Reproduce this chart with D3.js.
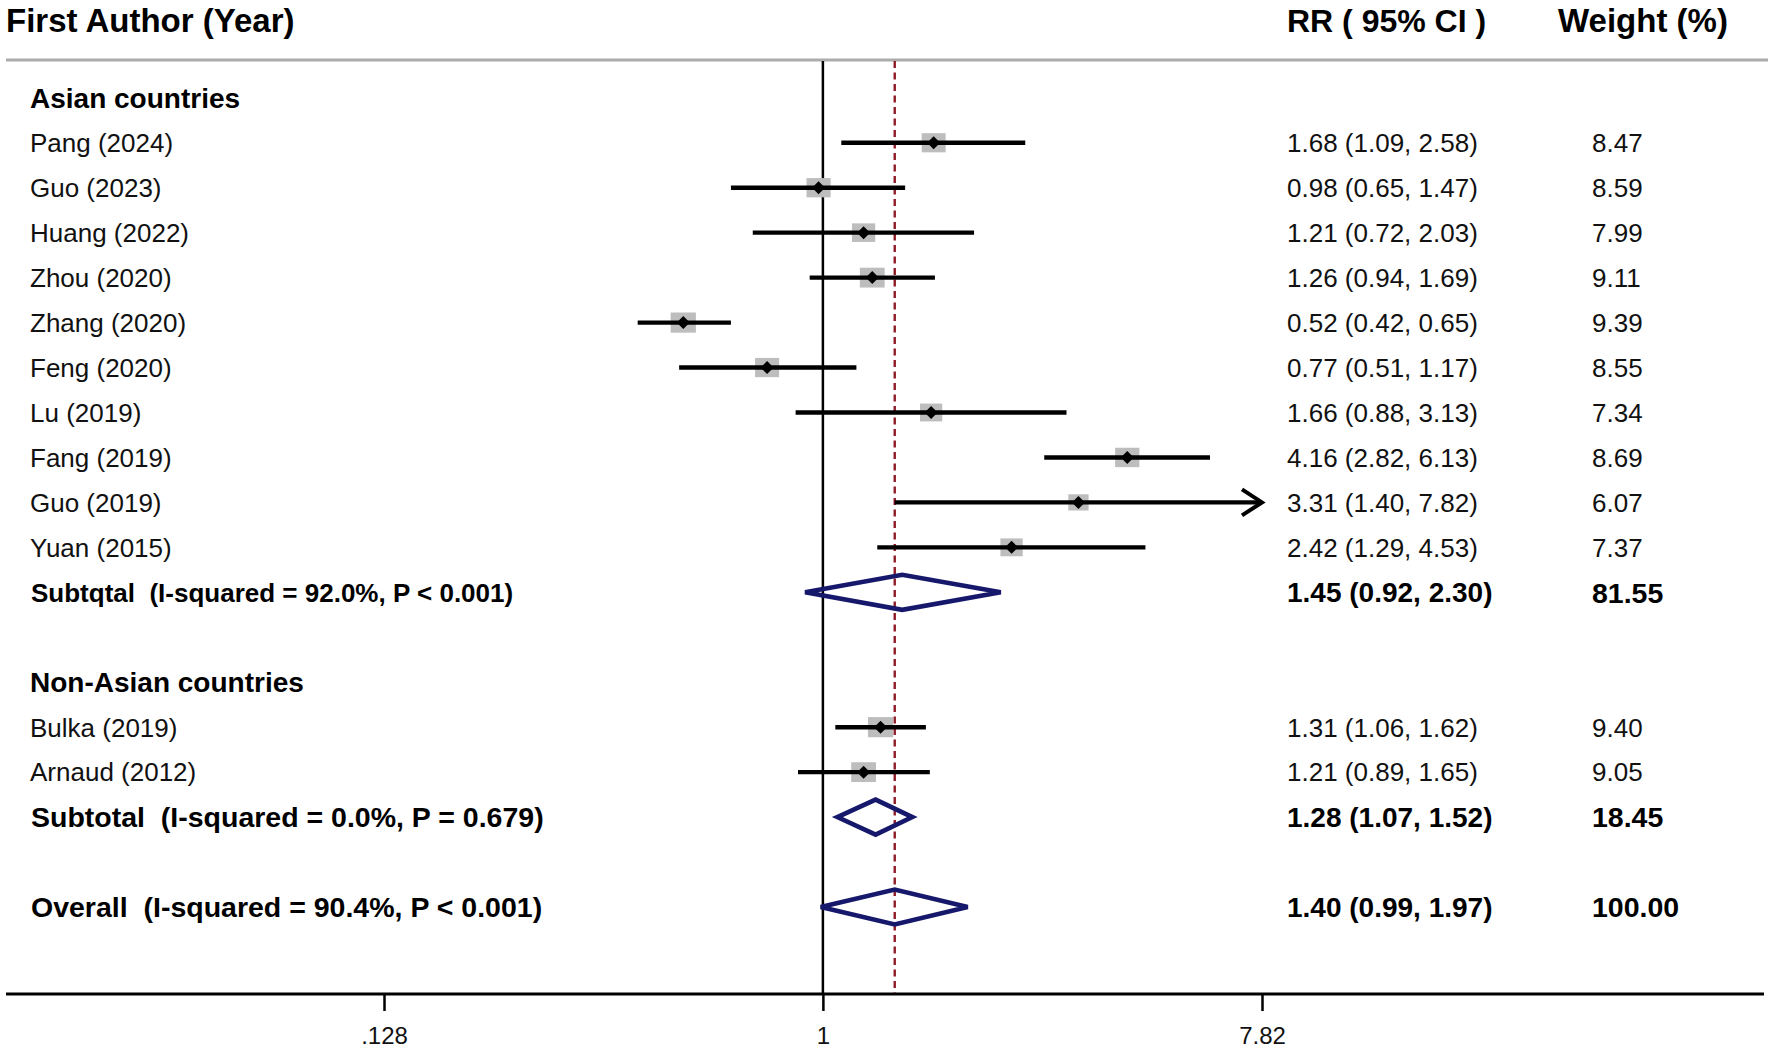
<!DOCTYPE html>
<html lang="en">
<head>
  <meta charset="UTF-8">
  <title>Forest plot</title>
  <style>
    body { margin: 0; background: #fff; }
    svg { display: block; font-family: "Liberation Sans", Arial, sans-serif; }
    text { white-space: pre; }
  </style>
</head>
<body>
  <svg></svg>
  <script src="https://cdn.jsdelivr.net/npm/d3@7"></script>
  <script>
    var width = 1771
    var height = 1052

    // data
    var groups = ["Asian countries", "Non-Asian countries"]
    var studies = ["Pang (2024)", "Guo (2023)", "Huang (2022)", "Zhou (2020)", "Zhang (2020)", "Feng (2020)",
                   "Lu (2019)", "Fang (2019)", "Guo (2019)", "Yuan (2015)", "Bulka (2019)", "Arnaud (2012)"]
    var studyGroup = [0, 0, 0, 0, 0, 0, 0, 0, 0, 0, 1, 1]
    var rr     = [1.68, 0.98, 1.21, 1.26, 0.52, 0.77, 1.66, 4.16, 3.31, 2.42, 1.31, 1.21]
    var lower  = [1.09, 0.65, 0.72, 0.94, 0.42, 0.51, 0.88, 2.82, 1.40, 1.29, 1.06, 0.89]
    var upper  = [2.58, 1.47, 2.03, 1.69, 0.65, 1.17, 3.13, 6.13, 7.82, 4.53, 1.62, 1.65]
    var weight = [8.47, 8.59, 7.99, 9.11, 9.39, 8.55, 7.34, 8.69, 6.07, 7.37, 9.40, 9.05]

    var pooledLabels = ["Subtqtal  (I-squared = 92.0%, P < 0.001)",
                        "Subtotal  (I-squared = 0.0%, P = 0.679)",
                        "Overall  (I-squared = 90.4%, P < 0.001)"]
    var pooledRR     = [1.45, 1.28, 1.40]
    var pooledLower  = [0.92, 1.07, 0.99]
    var pooledUpper  = [2.30, 1.52, 1.97]
    var pooledWeight = [81.55, 18.45, 100.00]
    var pooledFont   = [26, 28.5, 28.5]

    var tickValues = [0.128, 1, 7.82]
    var tickLabels = [".128", "1", "7.82"]

    // row layout: group header, its studies, subtotal, blank ... overall
    var rows = []
    groups.forEach(function(g, gi){
      rows.push({type: "group", label: g})
      studies.forEach(function(s, i){ if(studyGroup[i] === gi) rows.push({type: "study", i: i}) })
      rows.push({type: "pooled", i: gi})
      rows.push({type: "blank"})
    })
    rows.push({type: "pooled", i: 2})
    rows.forEach(function(r, k){ r.row = k })

    var x = d3.scaleLog().domain([0.128, 7.82]).range([384, 1262])
    var y = d3.scaleLinear().domain([0, rows.length - 1]).range([97.8, 907])
    var boxW = d3.scaleSqrt().domain([0, 10]).range([0, 26])

    var fmt = d3.format(".2f")
    function ci(m, l, u){ return fmt(m) + " (" + fmt(l) + ", " + fmt(u) + ")" }

    var plotTop = 61, axisY = 994
    var colRR = 1287, colW = 1592

    var svg = d3.select("svg").attr("width", width).attr("height", height)

    // header
    svg.append("text").attr("x", 6).attr("y", 32).attr("font-size", 33).attr("font-weight", "bold")
       .text("First Author (Year)")
    svg.append("text").attr("x", colRR).attr("y", 32).attr("font-size", 32).attr("font-weight", "bold")
       .text("RR ( 95% CI )")
    svg.append("text").attr("x", 1558).attr("y", 32).attr("font-size", 33).attr("font-weight", "bold")
       .text("Weight (%)")
    svg.append("line").attr("x1", 6).attr("x2", 1768).attr("y1", plotTop - 1).attr("y2", plotTop - 1)
       .attr("stroke", "#acacac").attr("stroke-width", 3)

    // reference lines
    svg.append("line").attr("x1", x(1)).attr("x2", x(1)).attr("y1", plotTop).attr("y2", axisY)
       .attr("stroke", "#000").attr("stroke-width", 2.5)
    svg.append("line").attr("x1", x(pooledRR[2])).attr("x2", x(pooledRR[2])).attr("y1", plotTop).attr("y2", axisY)
       .attr("stroke", "#8e1b27").attr("stroke-width", 2.4).attr("stroke-dasharray", "7,4.5")

    var studyRows = rows.filter(r => r.type === "study")
    var xmax = x.domain()[1]

    // weight boxes
    svg.selectAll("rect.box").data(studyRows).join("rect").attr("class", "box")
       .attr("x", d => x(rr[d.i]) - boxW(weight[d.i]) / 2)
       .attr("y", d => y(d.row) - boxW(weight[d.i]) * 0.4)
       .attr("width", d => boxW(weight[d.i]))
       .attr("height", d => boxW(weight[d.i]) * 0.8)
       .attr("fill", "#bdbdbd")

    // confidence intervals
    svg.selectAll("line.ci").data(studyRows).join("line").attr("class", "ci")
       .attr("x1", d => x(lower[d.i]))
       .attr("x2", d => x(Math.min(upper[d.i], xmax)))
       .attr("y1", d => y(d.row)).attr("y2", d => y(d.row))
       .attr("stroke", "#000").attr("stroke-width", 4.4)

    svg.selectAll("path.arrow").data(studyRows.filter(d => upper[d.i] >= xmax)).join("path").attr("class", "arrow")
       .attr("d", d => {
         var tx = x(xmax), ty = y(d.row)
         return "M" + (tx - 20) + "," + (ty - 13) + "L" + tx + "," + ty + "L" + (tx - 20) + "," + (ty + 13)
       })
       .attr("fill", "none").attr("stroke", "#000").attr("stroke-width", 4)

    // point estimates
    svg.selectAll("path.pt").data(studyRows).join("path").attr("class", "pt")
       .attr("d", d => {
         var cx = x(rr[d.i]), cy = y(d.row)
         return "M" + (cx - 6.5) + "," + cy + "L" + cx + "," + (cy - 6.5) + "L" + (cx + 6.5) + "," + cy + "L" + cx + "," + (cy + 6.5) + "Z"
       })
       .attr("fill", "#000")

    // pooled diamonds
    var pooledRows = rows.filter(r => r.type === "pooled")
    svg.selectAll("path.pooled").data(pooledRows).join("path").attr("class", "pooled")
       .attr("d", d => {
         var cy = y(d.row), h = 17.5
         return "M" + x(pooledLower[d.i]) + "," + cy + "L" + x(pooledRR[d.i]) + "," + (cy - h) +
                "L" + x(pooledUpper[d.i]) + "," + cy + "L" + x(pooledRR[d.i]) + "," + (cy + h) + "Z"
       })
       .attr("fill", "none").attr("stroke", "#16186c").attr("stroke-width", 4.6)

    // left labels
    svg.selectAll("text.grp").data(rows.filter(r => r.type === "group")).join("text").attr("class", "grp")
       .attr("x", 30).attr("y", d => y(d.row)).attr("dy", "0.36em")
       .attr("font-size", 28).attr("font-weight", "bold").text(d => d.label)
    svg.selectAll("text.study").data(studyRows).join("text").attr("class", "study")
       .attr("x", 30).attr("y", d => y(d.row)).attr("dy", "0.36em")
       .attr("font-size", 26).attr("fill", "#111").text(d => studies[d.i])
    svg.selectAll("text.plab").data(pooledRows).join("text").attr("class", "plab")
       .attr("x", 31).attr("y", d => y(d.row)).attr("dy", "0.36em")
       .attr("font-size", d => pooledFont[d.i]).attr("font-weight", "bold").text(d => pooledLabels[d.i])

    // right columns
    svg.selectAll("text.rr").data(studyRows).join("text").attr("class", "rr")
       .attr("x", colRR).attr("y", d => y(d.row)).attr("dy", "0.36em")
       .attr("font-size", 26).attr("fill", "#111")
       .text(d => ci(rr[d.i], lower[d.i], upper[d.i]))
    svg.selectAll("text.wt").data(studyRows).join("text").attr("class", "wt")
       .attr("x", colW).attr("y", d => y(d.row)).attr("dy", "0.36em")
       .attr("font-size", 26).attr("fill", "#111").text(d => fmt(weight[d.i]))
    svg.selectAll("text.prr").data(pooledRows).join("text").attr("class", "prr")
       .attr("x", colRR).attr("y", d => y(d.row)).attr("dy", "0.36em")
       .attr("font-size", 28).attr("font-weight", "bold")
       .text(d => ci(pooledRR[d.i], pooledLower[d.i], pooledUpper[d.i]))
    svg.selectAll("text.pwt").data(pooledRows).join("text").attr("class", "pwt")
       .attr("x", colW).attr("y", d => y(d.row)).attr("dy", "0.36em")
       .attr("font-size", 28.5).attr("font-weight", "bold").text(d => fmt(pooledWeight[d.i]))

    // x axis
    svg.append("line").attr("x1", 6).attr("x2", 1764).attr("y1", axisY).attr("y2", axisY)
       .attr("stroke", "#000").attr("stroke-width", 3)
    var xAxis = svg.append("g")
        .attr("transform", "translate(0," + axisY + ")")
        .call(d3.axisBottom(x).tickValues(tickValues).tickFormat((d, i) => tickLabels[i])
                .tickSize(17).tickPadding(16))
    xAxis.select(".domain").remove()
    xAxis.selectAll(".tick line").attr("stroke-width", 2.5)
    xAxis.selectAll(".tick text").attr("font-size", 24).attr("font-family", "Liberation Sans, Arial, sans-serif").attr("fill", "#111")
  </script>
</body>
</html>
